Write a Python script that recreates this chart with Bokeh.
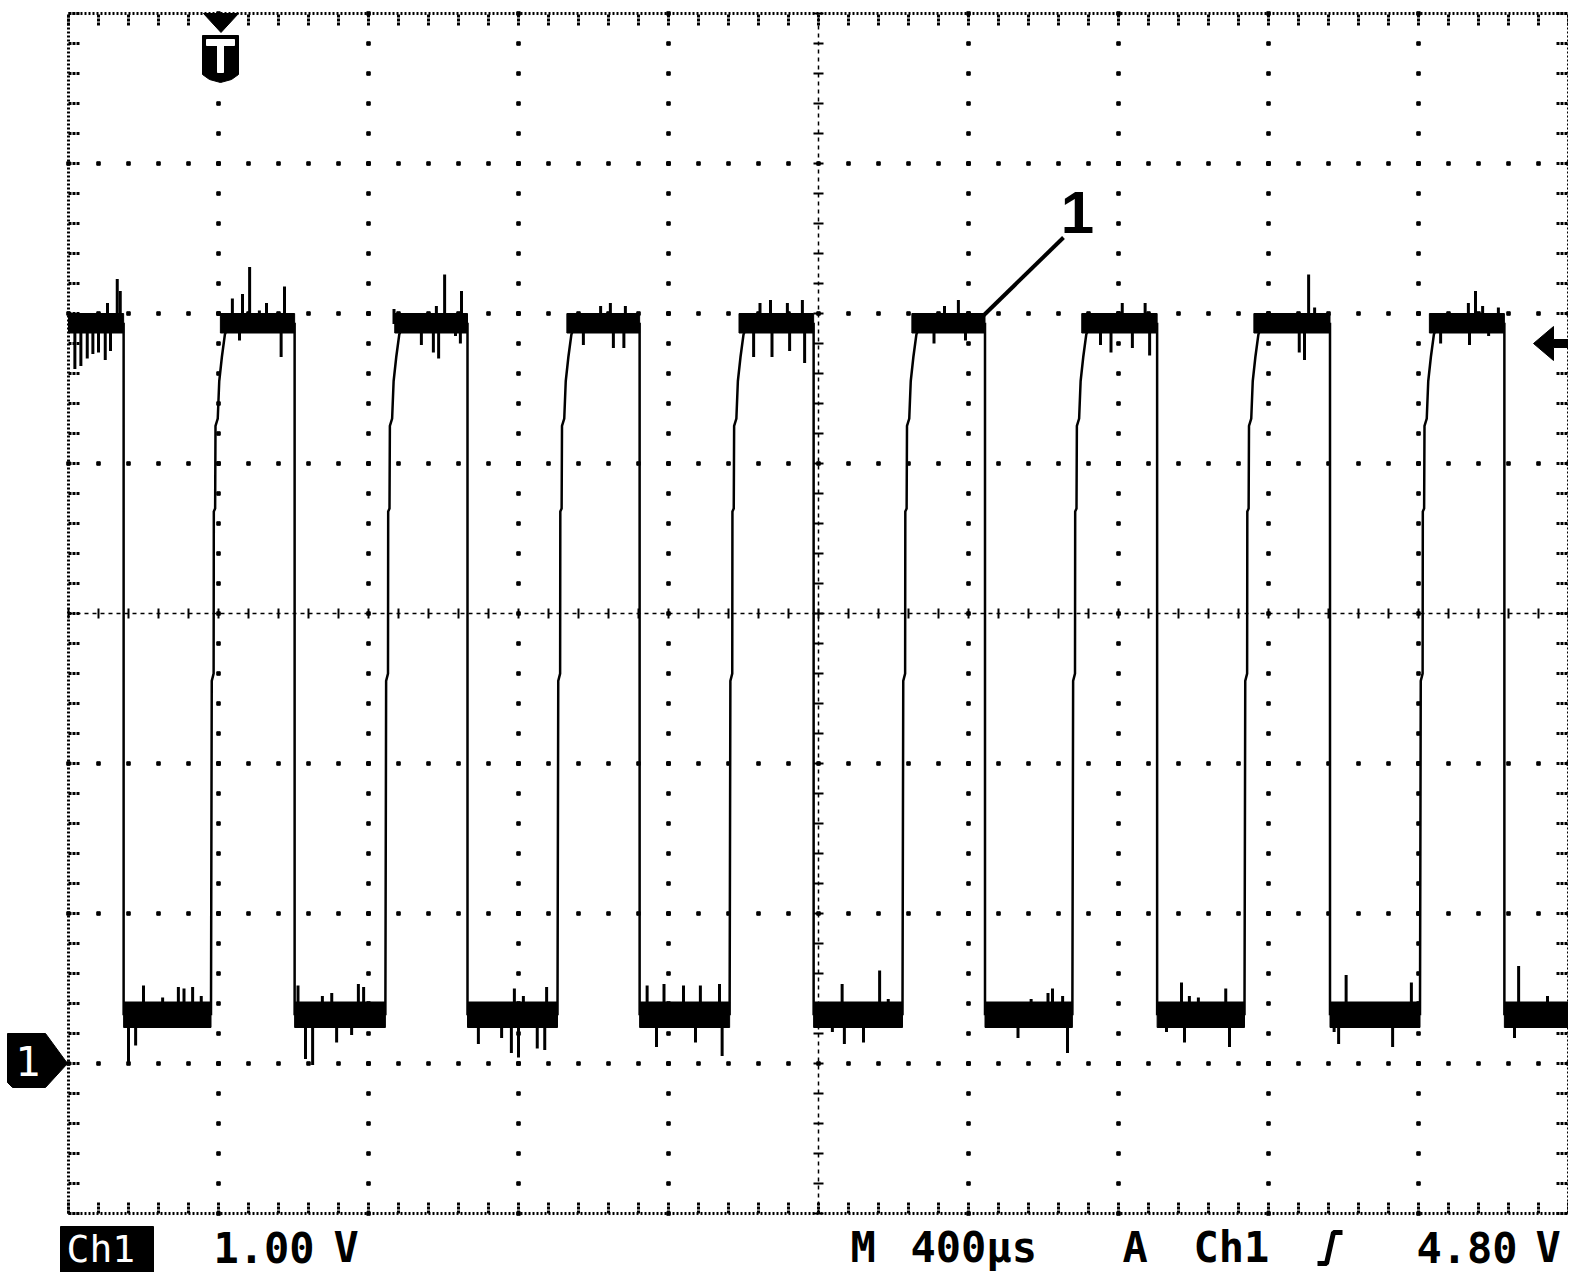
import numpy as np
from bokeh.plotting import figure
from bokeh.models import Range1d
from bokeh.core.properties import value
from bokeh.embed import file_html
from bokeh.resources import INLINE

# scope settings as shown on the screen
US_PER_DIV = 400
V_PER_DIV = 1.0
TRIG_LEVEL = 4.80

# edge times, µs from the left edge of the graticule
fall_us = [147, 603, 1064, 1523, 1987, 2444, 2903, 3364, 3829]
rise_us = [380, 845, 1304, 1763, 2224, 2677, 3136, 3604]

# shape of one rising edge: time after its start (µs) and volts
rise_dt_us = [0, 2, 7, 7.5, 11, 12, 18, 22, 29, 37, 47]
rise_v = [0.33, 2.55, 2.6, 3.68, 3.7, 4.25, 4.3, 4.55, 4.71, 4.86, 4.93]

high_v = 4.93
low_v = 0.33
high_band = (4.87, 5.00)
low_band = (0.24, 0.41)

# noise spikes on the high level
high_spike_t = [130, 138, 104, 17, 33, 50, 65, 80, 98, 112,
                483, 464, 437, 576, 528, 509, 567, 456,
                1003, 1048, 981, 868, 987, 973, 941, 1045, 1032,
                1445, 1419, 1485, 1453, 1481, 1373,
                1844, 1957, 1917, 1872, 1827, 1876, 1963, 1923,
                2373, 2336, 2308, 2392,
                2810, 2871, 2780, 2883, 2837, 2752,
                3307, 3323, 3296, 3282,
                3752, 3733, 3813, 3771, 3736, 3659, 3787]
high_spike_v = [5.23, 5.15, 5.07, 4.63, 4.65, 4.70, 4.73, 4.74, 4.69, 4.75,
                5.31, 5.13, 5.10, 5.18, 5.07, 5.02, 4.71, 4.82,
                5.26, 5.15, 5.05, 5.03, 4.70, 4.74, 4.79, 4.80, 4.85,
                5.07, 5.05, 5.05, 4.77, 4.77, 4.79,
                5.07, 5.09, 5.07, 5.09, 4.71, 4.71, 4.67, 4.75,
                5.09, 5.05, 4.80, 4.82,
                5.07, 5.07, 4.74, 4.72, 4.77, 4.79,
                5.26, 5.04, 4.69, 4.74,
                5.15, 5.07, 5.04, 5.05, 4.79, 4.80, 4.85]

# noise spikes on the low level
low_spike_t = [200, 251, 293, 308, 331, 354, 160, 179,
               612, 677, 702, 773, 787, 632, 651, 715, 755,
               1189, 1275, 1213, 1093, 1181, 1200, 1250, 1270, 1155,
               1543, 1588, 1640, 1685, 1736, 1568, 1672, 1743,
               2063, 2163, 2186, 2069, 2120, 2037,
               2624, 2651, 2612, 2567, 2532, 2664,
               2968, 2989, 3086, 3013, 2976, 3096, 2928,
               3407, 3581, 3387, 3531, 3375,
               3867, 3944, 3856]
low_spike_v = [0.52, 0.44, 0.51, 0.50, 0.51, 0.45, 0.01, 0.12,
               0.52, 0.45, 0.47, 0.53, 0.51, 0.03, -0.01, 0.14, 0.19,
               0.50, 0.51, 0.45, 0.13, 0.07, 0.04, 0.10, 0.09, 0.17,
               0.52, 0.53, 0.52, 0.52, 0.53, 0.11, 0.14, 0.05,
               0.53, 0.62, 0.43, 0.13, 0.14, 0.21,
               0.50, 0.45, 0.47, 0.43, 0.17, 0.07,
               0.54, 0.45, 0.50, 0.44, 0.14, 0.11, 0.21,
               0.59, 0.54, 0.13, 0.11, 0.21,
               0.65, 0.45, 0.17]

# screen layout: 150 px per division, graticule from px 68 / row 1063 = 0 V
PX = 150
DT = US_PER_DIV / PX
DV = V_PER_DIV / PX


def tx(px):
    return (px - 68) * DT


def vy(py):
    return (1063 - py) * DV


W, H = 1568, 1272
p = figure(width=W, height=H, output_backend="svg", toolbar_location=None,
           x_range=Range1d(tx(0), tx(W)), y_range=Range1d(vy(H), vy(0)),
           min_border=0)
p.xaxis.visible = False
p.yaxis.visible = False
p.grid.visible = False
p.outline_line_color = None
p.background_fill_color = "white"
p.border_fill_color = "white"

# graticule
T0, T1 = 0, 10 * US_PER_DIV
V0, V1 = -1, 7
VC, TC = 3, 5 * US_PER_DIV
t_minor = np.arange(T0, T1 + 1, US_PER_DIV / 5)
v_minor = np.arange(V0, V1 + 0.001, 0.2)

dot_t, dot_v = [], []
for t in np.arange(T0 + US_PER_DIV, T1, US_PER_DIV):
    if t == TC:
        continue
    dot_t += [t] * len(v_minor)
    dot_v += list(v_minor)
for v in range(V0 + 1, V1):
    if v == VC:
        continue
    dot_t += list(t_minor)
    dot_v += [v] * len(t_minor)
p.scatter(dot_t, dot_v, marker="square", size=3.5, color="black")

# center cross with ticks
p.segment(x0=[T0], y0=[VC], x1=[T1], y1=[VC], line_width=1.5, line_dash="4 4", color="black")
p.segment(x0=[TC], y0=[V0], x1=[TC], y1=[V1], line_width=1.5, line_dash="4 4", color="black")
p.segment(x0=t_minor, y0=VC - 5 * DV, x1=t_minor, y1=VC + 5 * DV, line_width=2, color="black")
p.segment(x0=TC - 5 * DT, y0=v_minor, x1=TC + 5 * DT, y1=v_minor, line_width=2, color="black")

# border with inward ticks
p.segment(x0=[T0, T0, T0, T1], y0=[V0, V1, V0, V0], x1=[T1, T1, T0, T1], y1=[V0, V1, V1, V1],
          line_width=3, line_dash="2 2", color="black")
tk = 12
p.segment(x0=T0, y0=v_minor, x1=T0 + tk * DT, y1=v_minor, line_width=3, line_dash="3 1", color="black")
p.segment(x0=T1 - tk * DT, y0=v_minor, x1=T1, y1=v_minor, line_width=3, line_dash="3 1", color="black")
p.segment(x0=t_minor, y0=V1 - tk * DV, x1=t_minor, y1=V1, line_width=3, line_dash="3 1", color="black")
p.segment(x0=t_minor, y0=V0, x1=t_minor, y1=V0 + tk * DV, line_width=3, line_dash="3 1", color="black")

# noise bands
hb_left = [T0] + [r + 25 for r in rise_us]
p.quad(left=hb_left, right=fall_us, bottom=high_band[0], top=high_band[1], color="black")
p.quad(left=fall_us, right=rise_us + [T1], bottom=low_band[0], top=low_band[1], color="black")

# noise spikes
p.segment(x0=high_spike_t, y0=high_v, x1=high_spike_t, y1=high_spike_v, line_width=3, color="black")
p.segment(x0=low_spike_t, y0=low_v, x1=low_spike_t, y1=low_spike_v, line_width=3, color="black")

# trace
tr_t, tr_v = [T0], [high_v]
for i, f in enumerate(fall_us):
    tr_t += [f, f]
    tr_v += [high_v, low_v]
    if i < len(rise_us):
        tr_t += [rise_us[i] + d for d in rise_dt_us]
        tr_v += rise_v
tr_t.append(T1)
tr_v.append(low_v)
p.line(tr_t, tr_v, line_width=2.5, color="black", line_join="miter")

# trace label "1" with leader
p.segment(x0=[tx(983)], y0=[vy(315)], x1=[tx(1063)], y1=[vy(237)], line_width=4, color="black")
p.text(x=[tx(1077)], y=[vy(212)], text=["1"], text_font=value("Liberation Sans"),
       text_font_style="bold", text_font_size="60px", text_align="center",
       text_baseline="middle", text_color="black")

# trigger position marker "T"
p.patch([tx(203), tx(238), tx(220.5)], [vy(13), vy(13), vy(32)], color="black")
p.patch([tx(202), tx(238), tx(238), tx(231), tx(220), tx(209), tx(202)],
        [vy(35), vy(35), vy(74), vy(79), vy(82), vy(79), vy(74)], color="black")
p.quad(left=[tx(206), tx(217)], right=[tx(234), tx(223)],
       top=[vy(39), vy(45)], bottom=[vy(45), vy(72)], color="white")

# channel 1 ground marker
p.patch([tx(7), tx(45), tx(67), tx(45), tx(12), tx(7)],
        [vy(1033), vy(1033), vy(1063), vy(1087), vy(1087), vy(1082)], color="black")
p.text(x=[tx(28)], y=[vy(1060)], text=["1"], text_font=value("DejaVu Sans"),
       text_font_size="40px", text_align="center", text_baseline="middle", text_color="white")

# trigger level arrow
ty = vy(1063) + TRIG_LEVEL
p.patch([tx(1533), tx(1553), tx(1553), tx(1568), tx(1568), tx(1553), tx(1553)],
        [ty, ty + 17 * DV, ty + 4 * DV, ty + 4 * DV, ty - 4 * DV, ty - 4 * DV, ty - 17 * DV],
        color="black")

# status line
p.quad(left=[tx(60)], right=[tx(153)], top=[vy(1226)], bottom=[vy(1272)], color="black")
p.text(x=[tx(66)], y=[vy(1248)], text=["Ch1"], text_font=value("DejaVu Sans Mono"),
       text_font_size="38px", text_baseline="middle", text_color="white")
status_text = ["1.00", "V", "M", "400µs", "A", "Ch1", "4.80", "V"]
status_px = [213, 333, 850, 910, 1122, 1193, 1416, 1535]
p.text(x=[tx(x) for x in status_px], y=vy(1247), text=status_text,
       text_font=value("DejaVu Sans Mono"), text_font_style="bold", text_font_size="42px",
       text_baseline="middle", text_align="left", text_color="black")
# rising-slope symbol
p.line([tx(1317), tx(1326), tx(1333), tx(1342)], [vy(1263), vy(1263), vy(1232), vy(1232)],
       line_width=5, color="black")

open("out.html", "w").write(file_html(p, INLINE))
